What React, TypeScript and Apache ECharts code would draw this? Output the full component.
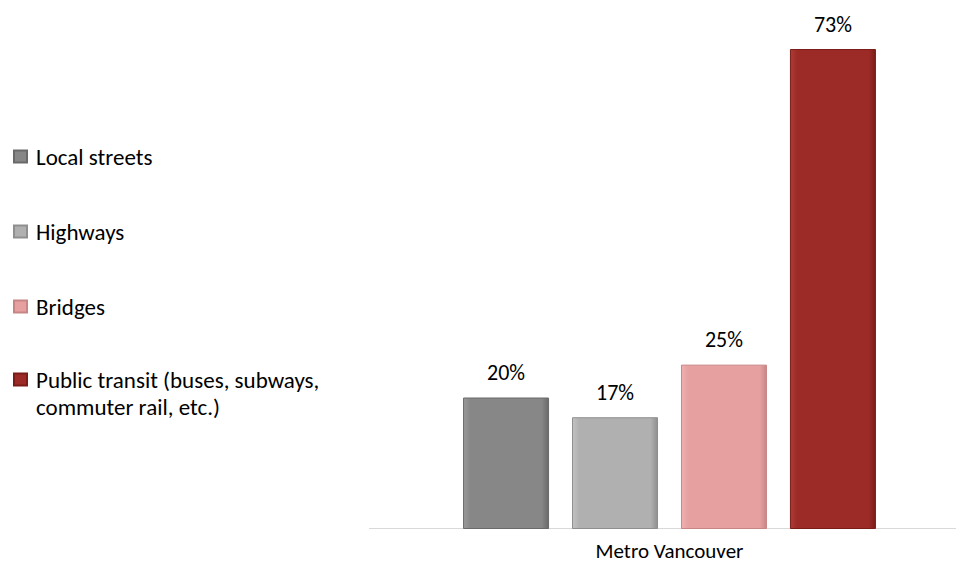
import React, { useEffect, useRef } from "react";
import * as echarts from "echarts";

const categories = ["Metro Vancouver"];
const seriesNames = [
  "Local streets",
  "Highways",
  "Bridges",
  "Public transit (buses, subways, commuter rail, etc.)",
];
const seriesValues = [[20], [17], [25], [73]];
const seriesColors = [
  ["#9a9a9a", "#878787", "#6a6a6a"],
  ["#c2c2c2", "#b0b0b0", "#8f8f8f"],
  ["#f0b0b0", "#e6a0a0", "#c88585"],
  ["#ad3a35", "#9c2b27", "#7a1c18"],
];

const FONT = "Carlito, Lato, 'Open Sans', sans-serif";

export default function App() {
  const ref = useRef<HTMLDivElement>(null);
  useEffect(() => {
    if (!ref.current) return;
    const chart = echarts.init(ref.current, null, { renderer: "svg" });
    const series = seriesNames.map((name, i) => ({
      name,
      type: "bar",
      data: seriesValues[i],
      barWidth: 86,
      barGap: "26.7%",
      itemStyle: {
        color: new echarts.graphic.LinearGradient(0, 0, 1, 0, [
          { offset: 0, color: seriesColors[i][0] },
          { offset: 0.08, color: seriesColors[i][1] },
          { offset: 0.92, color: seriesColors[i][1] },
          { offset: 1, color: seriesColors[i][2] },
        ]),
        borderColor: seriesColors[i][2],
        borderWidth: 1,
      },
      label: {
        show: true,
        position: "top",
        distance: 14,
        formatter: "{c}%",
        color: "#000",
        fontSize: 22,
        fontFamily: FONT,
      },
    }));
    const legendText = {
      fontSize: 23,
      fontFamily: FONT,
      color: "#000",
      lineHeight: 27,
      padding: [0, 0, 0, 4],
    };
    const legendCommon = {
      orient: "vertical",
      left: 13,
      padding: 0,
      itemWidth: 13,
      itemHeight: 12,
      itemGap: 48,
      icon: "rect",
      textStyle: legendText,
    };
    chart.setOption({
      animation: false,
      backgroundColor: "#fff",
      grid: { left: 383, right: 0, top: 3, bottom: 42, containLabel: false },
      legend: [
        { ...legendCommon, top: 143, data: seriesNames.slice(0, 3) },
        {
          ...legendCommon,
          top: 339,
          data: seriesNames.slice(3),
          formatter: () => "\nPublic transit (buses, subways,\ncommuter rail, etc.)",
        },
      ],
      graphic: [
        {
          type: "line",
          shape: { x1: 369, y1: 528.5, x2: 956, y2: 528.5 },
          style: { stroke: "#d9d9d9", lineWidth: 1 },
          z: 0,
        },
      ],
      xAxis: {
        type: "category",
        data: categories,
        axisLine: { show: false },
        axisTick: { show: false },
        axisLabel: {
          fontSize: 21,
          fontFamily: FONT,
          color: "#000",
          margin: 11,
        },
      },
      yAxis: {
        type: "value",
        min: 0,
        max: 80,
        show: false,
        splitLine: { show: false },
      },
      series,
    });
    return () => chart.dispose();
  }, []);
  return <div ref={ref} style={{ width: 956, height: 571, position: "absolute", left: 0, top: 0 }} />;
}
